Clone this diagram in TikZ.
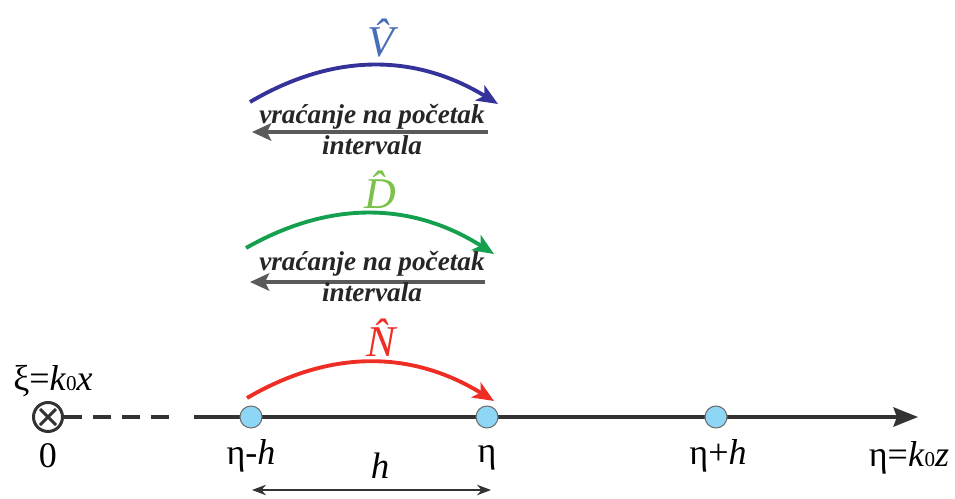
\documentclass[tikz,border=0pt]{standalone}
\usepackage{fontspec}
\setmainfont{Liberation Serif}
\usepackage{tikz}
\usetikzlibrary{arrows.meta, positioning, calc}
\definecolor{opblue}{HTML}{35339A}
\definecolor{vblue}{HTML}{4A6DB8}
\definecolor{opgreen}{HTML}{14A04E}
\definecolor{dgreen}{HTML}{7CC24A}
\definecolor{opred}{HTML}{EE2E24}
\definecolor{backgray}{HTML}{5A5A5A}
\definecolor{axisgray}{HTML}{333333}
\definecolor{sitefill}{HTML}{8ED6F6}
\newcommand{\kz}[1]{\textit{k}{\fontsize{12}{12}\selectfont 0}\textit{#1}}

\begin{document}
\begin{tikzpicture}[
    x=0.02cm, y=0.02cm,
    % 1. PUNTOS DE LA MALLA
    site/.style={circle, draw=gray!85!black, fill=sitefill, line width=0.6pt,
        minimum size=0.44cm, inner sep=0pt},
    % 2. EJE Y FLECHAS
    axis/.style={line width=1.8pt, draw=axisgray},
    oparc/.style={line width=2.2pt, -{Stealth[length=12pt, width=10pt, inset=3pt]}},
    back/.style={line width=1.9pt, draw=backgray,
        -{Stealth[length=11pt, width=10pt, inset=2.5pt]}},
    % 3. ETIQUETAS
    lbl/.style={font=\fontsize{20.5}{23}\selectfont, inner sep=0pt},
    oplbl/.style={font=\fontsize{25}{28}\selectfont\itshape, inner sep=0pt, anchor=base},
    note/.style={font=\fontsize{15.5}{16}\selectfont\bfseries\itshape,
        inner sep=0pt, text=black!85}
]
    \useasboundingbox (0,0) rectangle (955,-499);

    % --- ORIGEN Y EJE ---
    \node[circle, draw=axisgray, line width=1.7pt, minimum size=0.58cm, inner sep=0pt]
        (orig) at (48,-417) {};
    \draw[line width=1.7pt, axisgray] ($(orig)+(-8,-8)$) -- ($(orig)+(8,8)$);
    \draw[line width=1.7pt, axisgray] ($(orig)+(-8,8)$) -- ($(orig)+(8,-8)$);
    \coordinate (dashend) at (178,-417);
    \coordinate (axstart) at (194,-417);
    \coordinate (axend)   at (918,-417);
    \draw[axis, dash pattern=on 10.5pt off 6pt] (orig.east) -- (dashend);
    \draw[axis, -{Stealth[length=14pt, width=11pt, inset=2pt]}] (axstart) -- (axend);

    % --- PUNTOS eta-h, eta, eta+h ---
    \node[site] (prev) at (251,-417) {};
    \node[site] (cur)  at (487,-417) {};
    \node[site] (next) at (716,-417) {};

    % --- ETIQUETAS DEL EJE ---
    \node[lbl] (xi)    at (53,-381)  {ξ=\kz{x}};
    \node[lbl] (zero)  at (48,-456)  {0};
    \node[lbl] (lprev) at (251,-456) {η-\textit{h}};
    \node[lbl] (lcur)  at (487,-458) {η};
    \node[lbl] (lnext) at (718,-456) {η+\textit{h}};
    \node[lbl] (leta)  at (909,-458) {η=\kz{z}};

    % --- PASO h ---
    \coordinate (hl) at (252,-490);
    \coordinate (hr) at (491,-490);
    \draw[line width=0.8pt, axisgray, {Stealth[length=8pt, width=6pt]}-{Stealth[length=8pt, width=6pt]}]
        (hl) -- (hr);
    \node[lbl, font=\fontsize{21}{24}\selectfont\itshape] (hlbl) at (380,-466) {h};

    % --- OPERADOR N ---
    \coordinate (ns) at (247,-398);
    \coordinate (ne) at (494,-401);
    \draw[oparc, opred] (ns) to[bend left=31] (ne);
    \node[oplbl, text=opred] (nlbl) at (381,-357) {\^{N}};

    % --- OPERADOR D ---
    \coordinate (ds) at (246,-248);
    \coordinate (de) at (494,-254);
    \draw[oparc, opgreen] (ds) to[bend left=31] (de);
    \node[oplbl, text=dgreen] (dlbl) at (380,-209) {\^{D}};
    \coordinate (bds) at (485,-282);
    \coordinate (bde) at (250,-282);
    \draw[back] (bds) -- (bde);
    \node[note] (dn1) at (372,-264) {vraćanje na početak};
    \node[note] (dn2) at (372,-292) {intervala};

    % --- OPERADOR V ---
    \coordinate (vs) at (250,-102);
    \coordinate (ve) at (498,-104);
    \draw[oparc, opblue] (vs) to[bend left=31] (ve);
    \node[oplbl, text=vblue] (vlbl) at (381,-57) {\^{V}};
    \coordinate (bvs) at (488,-132);
    \coordinate (bve) at (252,-132);
    \draw[back] (bvs) -- (bve);
    \node[note] (vn1) at (372,-117) {vraćanje na početak};
    \node[note] (vn2) at (372,-145) {intervala};

\end{tikzpicture}
\end{document}
